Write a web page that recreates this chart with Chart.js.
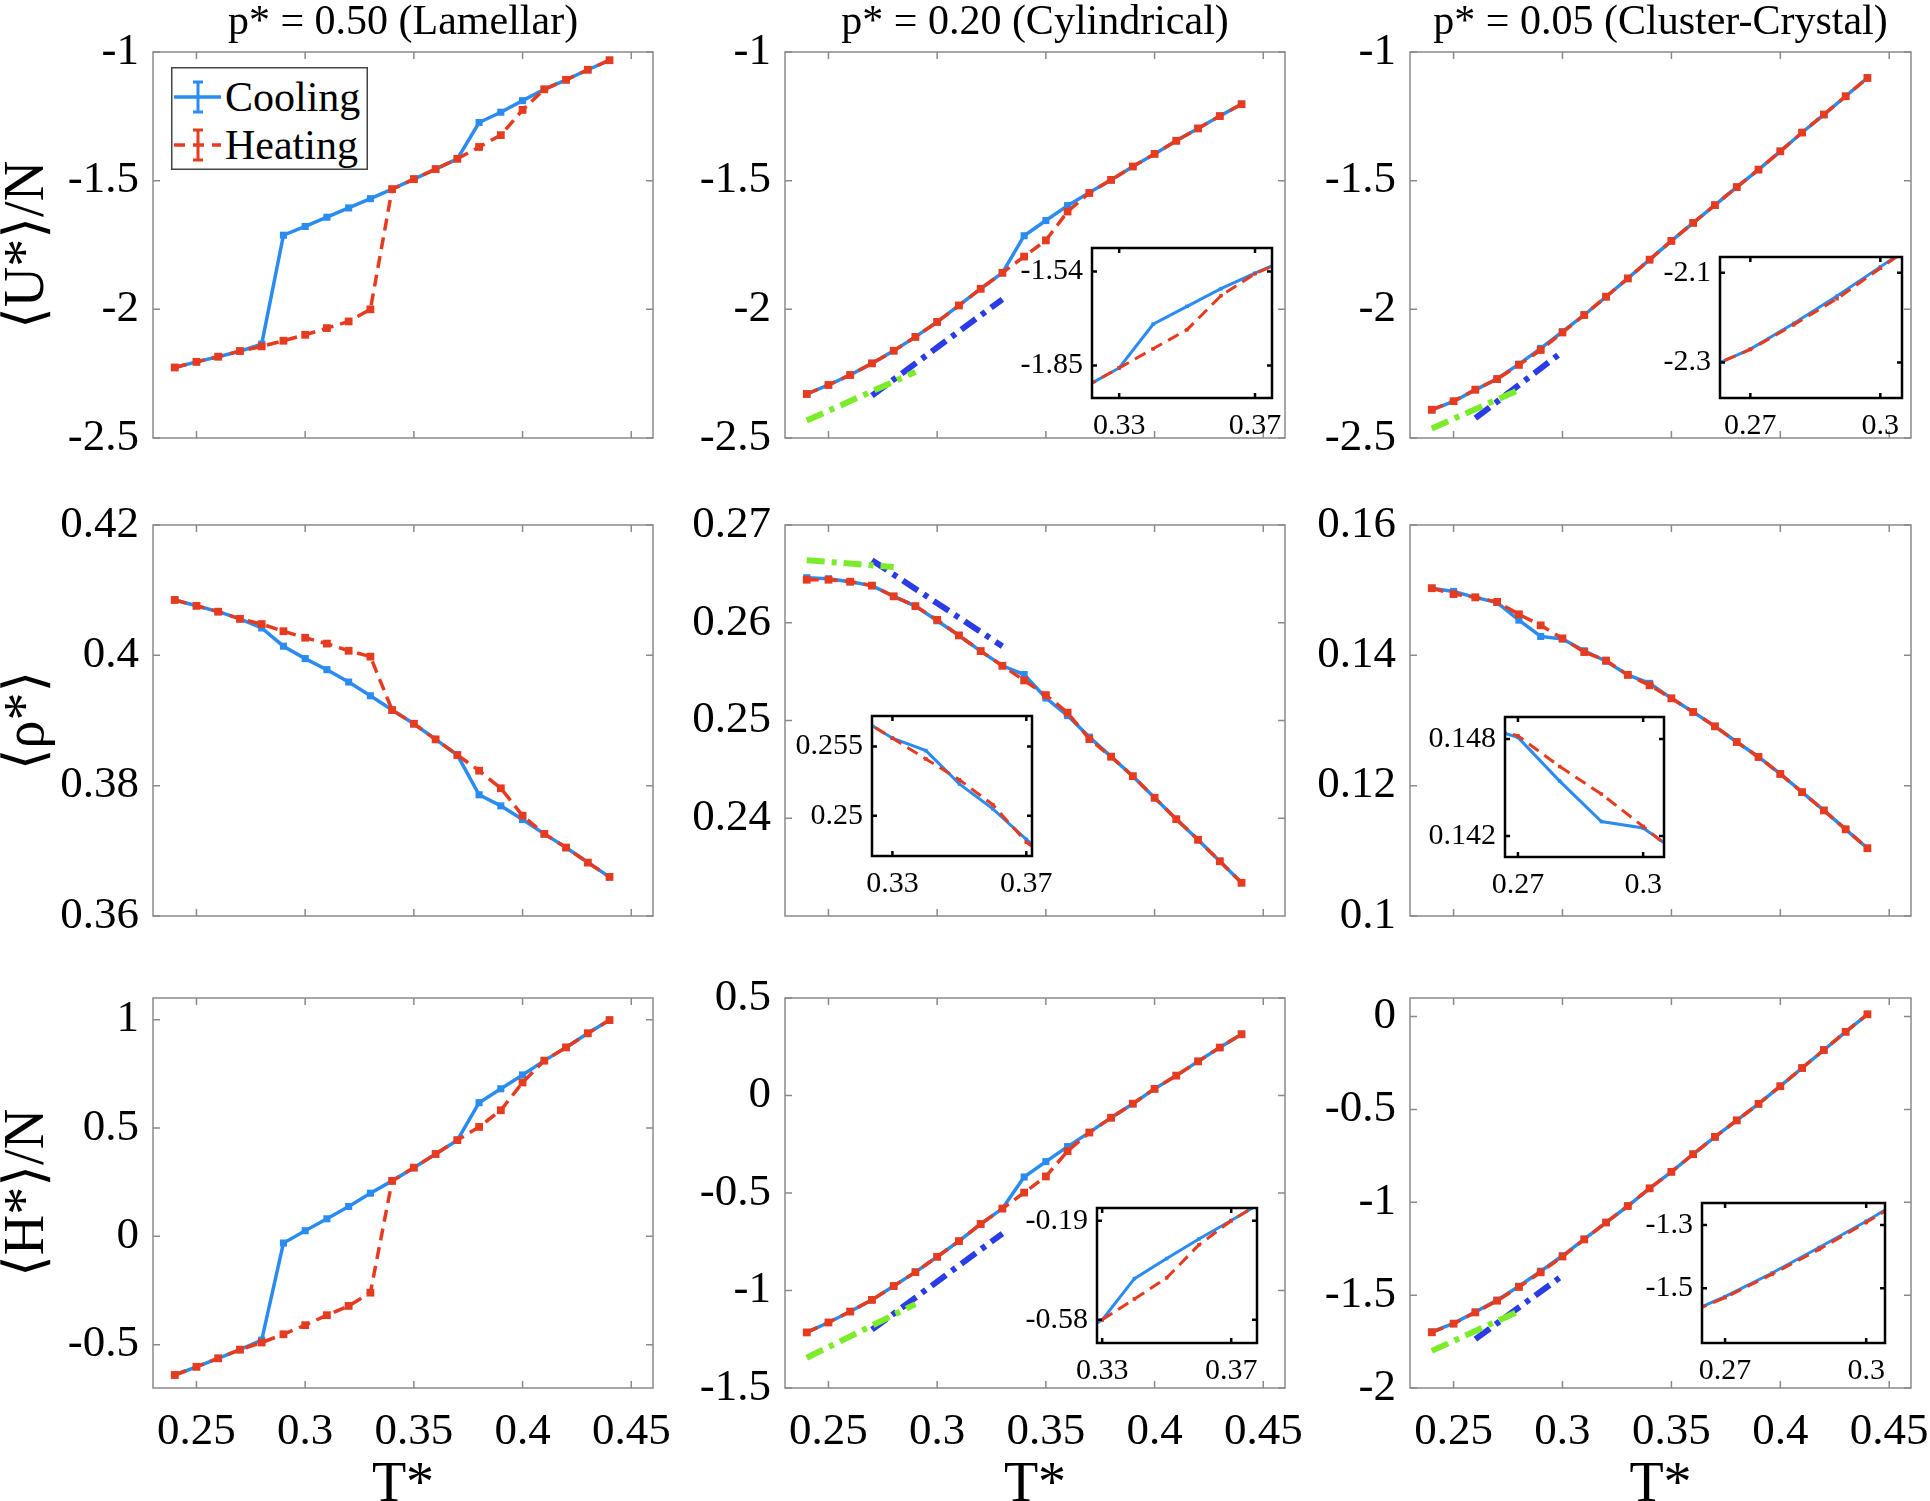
<!DOCTYPE html>
<html>
<head>
<meta charset="utf-8">
<title>Cooling / Heating</title>
<script src="https://cdn.jsdelivr.net/npm/chart.js@4.4.1/dist/chart.umd.min.js"></script>
<style>
  html, body { margin: 0; padding: 0; width: 1930px; height: 1501px; overflow: hidden; background: #fff; }
  canvas { position: absolute; }
  #legend { position: absolute; left: 171px; top: 67px; }
</style>
</head>
<body>
<svg id="legend" width="197" height="103" xmlns="http://www.w3.org/2000/svg">
  <rect x="0.75" y="0.75" width="195.5" height="101.5" fill="#fff" stroke="#444" stroke-width="1.5"/>
  <line x1="3" y1="30" x2="50" y2="30" stroke="#2A8BF2" stroke-width="3.5"/>
  <line x1="27" y1="15" x2="27" y2="45" stroke="#2A8BF2" stroke-width="3"/>
  <line x1="22" y1="15" x2="32" y2="15" stroke="#2A8BF2" stroke-width="3"/>
  <line x1="22" y1="45" x2="32" y2="45" stroke="#2A8BF2" stroke-width="3"/>
  <text x="54" y="44" font-family="'Liberation Serif', serif" font-size="42" fill="#000">Cooling</text>
  <line x1="3" y1="78" x2="50" y2="78" stroke="#E63B1F" stroke-width="3.5" stroke-dasharray="11 8"/>
  <line x1="27" y1="63" x2="27" y2="93" stroke="#E63B1F" stroke-width="3"/>
  <line x1="22" y1="63" x2="32" y2="63" stroke="#E63B1F" stroke-width="3"/>
  <line x1="22" y1="93" x2="32" y2="93" stroke="#E63B1F" stroke-width="3"/>
  <text x="54" y="92" font-family="'Liberation Serif', serif" font-size="42" fill="#000">Heating</text>
</svg>
<script>
// temperatures T*
var temps = [0.24, 0.25, 0.26, 0.27, 0.28, 0.29, 0.30, 0.31, 0.32, 0.33, 0.34,
             0.35, 0.36, 0.37, 0.38, 0.39, 0.40, 0.41, 0.42, 0.43, 0.44];

var colTitles = ['p* = 0.50 (Lamellar)', 'p* = 0.20 (Cylindrical)', 'p* = 0.05 (Cluster-Crystal)'];
var rowLabels = ['\u27E8U*\u27E9/N', '\u27E8\u03C1*\u27E9', '\u27E8H*\u27E9/N'];
var xTicks = [0.25, 0.3, 0.35, 0.4, 0.45];

// <U*>/N
var uLamCool = [-2.226, -2.204, -2.184, -2.163, -2.135, -1.712, -1.678, -1.642, -1.606, -1.570, -1.533,
                -1.494, -1.455, -1.415, -1.274, -1.234, -1.189, -1.145, -1.108, -1.069, -1.032];
var uLamHeat = [-2.226, -2.204, -2.184, -2.162, -2.144, -2.122, -2.099, -2.073, -2.047, -2.000, -1.533,
                -1.494, -1.455, -1.415, -1.369, -1.323, -1.225, -1.145, -1.108, -1.069, -1.032];
var uCylCool = [-2.329, -2.294, -2.255, -2.210, -2.161, -2.107, -2.049, -1.985, -1.920, -1.858, -1.714,
                -1.655, -1.597, -1.546, -1.497, -1.445, -1.396, -1.345, -1.297, -1.249, -1.203];
var uCylHeat = [-2.329, -2.294, -2.255, -2.210, -2.161, -2.107, -2.049, -1.985, -1.920, -1.858, -1.795,
                -1.732, -1.620, -1.548, -1.497, -1.445, -1.396, -1.345, -1.297, -1.249, -1.203];
var uCluCool = [-2.391, -2.358, -2.313, -2.270, -2.213, -2.152, -2.087, -2.022, -1.951, -1.880, -1.807,
                -1.734, -1.664, -1.595, -1.525, -1.457, -1.386, -1.313, -1.243, -1.172, -1.100];
var uCluHeat = [-2.390, -2.357, -2.312, -2.271, -2.216, -2.158, -2.090, -2.022, -1.951, -1.880, -1.807,
                -1.734, -1.664, -1.595, -1.525, -1.457, -1.386, -1.313, -1.243, -1.172, -1.101];

// <rho*>
var rhoLamCool = [0.4085, 0.4076, 0.4067, 0.4056, 0.4042, 0.4014, 0.3995, 0.3978, 0.3959, 0.3938, 0.3916,
                  0.3895, 0.3871, 0.3847, 0.3786, 0.3769, 0.3748, 0.3726, 0.3705, 0.3682, 0.3660];
var rhoLamHeat = [0.4085, 0.4076, 0.4067, 0.4056, 0.4048, 0.4037, 0.4027, 0.4018, 0.4007, 0.3998, 0.3916,
                  0.3895, 0.3871, 0.3847, 0.3823, 0.3796, 0.3754, 0.3726, 0.3705, 0.3682, 0.3660];
var rhoCylCool = [0.2646, 0.2645, 0.2642, 0.2638, 0.2627, 0.2617, 0.2602, 0.2587, 0.2571, 0.2556, 0.2547,
                  0.2523, 0.2505, 0.2483, 0.2463, 0.2443, 0.2421, 0.2399, 0.2378, 0.2356, 0.2334];
var rhoCylHeat = [0.2644, 0.2644, 0.2642, 0.2638, 0.2627, 0.2617, 0.2603, 0.2587, 0.2571, 0.2556, 0.2541,
                  0.2526, 0.2508, 0.2481, 0.2463, 0.2443, 0.2421, 0.2399, 0.2378, 0.2356, 0.2334];
var rhoCluCool = [0.1503, 0.1498, 0.1489, 0.1481, 0.1454, 0.1429, 0.1425, 0.1407, 0.1391, 0.1370, 0.1357,
                  0.1334, 0.1313, 0.1291, 0.1267, 0.1244, 0.1218, 0.1190, 0.1162, 0.1133, 0.1104];
var rhoCluHeat = [0.1503, 0.1494, 0.1489, 0.1482, 0.1463, 0.1446, 0.1426, 0.1405, 0.1392, 0.1370, 0.1354,
                  0.1334, 0.1313, 0.1291, 0.1267, 0.1244, 0.1218, 0.1190, 0.1162, 0.1133, 0.1104];

// <H*>/N
var hLamCool = [-0.640, -0.602, -0.563, -0.523, -0.479, -0.031, 0.026, 0.081, 0.138, 0.199, 0.256,
                0.317, 0.380, 0.444, 0.617, 0.681, 0.745, 0.811, 0.872, 0.937, 0.998];
var hLamHeat = [-0.640, -0.602, -0.563, -0.523, -0.490, -0.452, -0.410, -0.364, -0.321, -0.260, 0.256,
                0.317, 0.380, 0.444, 0.505, 0.582, 0.710, 0.811, 0.872, 0.937, 0.998];
var hCylCool = [-1.215, -1.164, -1.108, -1.048, -0.977, -0.906, -0.827, -0.747, -0.659, -0.580, -0.418,
                -0.339, -0.262, -0.189, -0.114, -0.042, 0.034, 0.102, 0.175, 0.246, 0.314];
var hCylHeat = [-1.215, -1.164, -1.108, -1.048, -0.977, -0.906, -0.827, -0.747, -0.659, -0.580, -0.498,
                -0.415, -0.285, -0.190, -0.114, -0.042, 0.034, 0.102, 0.175, 0.246, 0.314];
var hCluCool = [-1.698, -1.652, -1.591, -1.527, -1.452, -1.371, -1.288, -1.198, -1.109, -1.020, -0.925,
                -0.836, -0.741, -0.648, -0.559, -0.470, -0.375, -0.277, -0.180, -0.082, 0.012];
var hCluHeat = [-1.700, -1.654, -1.593, -1.530, -1.456, -1.377, -1.292, -1.200, -1.109, -1.020, -0.925,
                -0.836, -0.741, -0.648, -0.559, -0.470, -0.375, -0.277, -0.180, -0.082, 0.012];

// dash-dot guide lines (green / dark blue)
var uCylGreenT = [0.24, 0.29],  uCylGreen = [-2.432, -2.243];
var uCylBlueT  = [0.27, 0.33],  uCylBlue  = [-2.335, -1.961];
var uCluGreenT = [0.24, 0.28],  uCluGreen = [-2.463, -2.313];
var uCluBlueT  = [0.26, 0.30],  uCluBlue  = [-2.423, -2.165];
var rhoCylGreenT = [0.24, 0.28], rhoCylGreen = [0.2664, 0.2657];
var rhoCylBlueT  = [0.27, 0.33], rhoCylBlue  = [0.2664, 0.2576];
var hCylGreenT = [0.24, 0.29],  hCylGreen = [-1.345, -1.070];
var hCylBlueT  = [0.27, 0.33],  hCylBlue  = [-1.201, -0.708];
var hCluGreenT = [0.24, 0.28],  hCluGreen = [-1.800, -1.586];
var hCluBlueT  = [0.26, 0.30],  hCluBlue  = [-1.737, -1.395];

var SERIF = "'Liberation Serif', 'Times New Roman', 'DejaVu Serif', serif";
var BLUE = '#2A8BF2', RED = '#E63B1F', GREEN = '#7CEB2A', DARKBLUE = '#2A3CE6';

var COL = [{l: 153, r: 653}, {l: 785, r: 1285}, {l: 1410, r: 1911}];
var ROW = [{t: 52, b: 438}, {t: 525, b: 916}, {t: 998, b: 1388}];

function pairs(xs, ys) {
  return xs.map(function (x, i) { return {x: x, y: ys[i]}; });
}

function fmt(v) {
  return String(Math.round(v * 1e6) / 1e6);
}

// box + inward tick marks on all four sides (MATLAB look)
function framePlugin(color, width, tickLen, whiteBg) {
  return {
    id: 'frame',
    beforeDatasetsDraw: function (chart) {
      if (!whiteBg) return;
      var a = chart.chartArea, ctx = chart.ctx;
      ctx.save();
      ctx.fillStyle = '#fff';
      ctx.fillRect(a.left, a.top, a.right - a.left, a.bottom - a.top);
      ctx.restore();
    },
    afterDraw: function (chart) {
      var a = chart.chartArea, ctx = chart.ctx;
      var sx = chart.scales.x, sy = chart.scales.y;
      ctx.save();
      ctx.strokeStyle = color;
      ctx.lineWidth = width;
      ctx.beginPath();
      sx.ticks.forEach(function (t) {
        var px = sx.getPixelForValue(t.value);
        ctx.moveTo(px, a.bottom); ctx.lineTo(px, a.bottom - tickLen);
        ctx.moveTo(px, a.top); ctx.lineTo(px, a.top + tickLen);
      });
      sy.ticks.forEach(function (t) {
        var py = sy.getPixelForValue(t.value);
        ctx.moveTo(a.left, py); ctx.lineTo(a.left + tickLen, py);
        ctx.moveTo(a.right, py); ctx.lineTo(a.right - tickLen, py);
      });
      ctx.stroke();
      ctx.strokeRect(a.left, a.top, a.right - a.left, a.bottom - a.top);
      ctx.restore();
    }
  };
}

function buildDatasets(p, small) {
  var ds = [];
  ds.push({
    data: pairs(temps, p.heat), borderColor: RED, backgroundColor: RED,
    borderWidth: small ? 3 : 3.5, borderDash: [12, 7],
    pointStyle: 'rect', pointRadius: small ? 2.5 : 5.5, pointBorderWidth: 0, pointBackgroundColor: RED
  });
  ds.push({
    data: pairs(temps, p.cool), borderColor: BLUE, backgroundColor: BLUE,
    borderWidth: small ? 3 : 3.5,
    pointStyle: 'rect', pointRadius: small ? 2.5 : 5, pointBorderWidth: 0, pointBackgroundColor: BLUE
  });
  if (!small && p.green) {
    ds.push({
      data: pairs(p.green[0], p.green[1]), borderColor: GREEN, borderWidth: 6,
      borderDash: [18, 7, 5, 7], pointRadius: 0
    });
    ds.push({
      data: pairs(p.blue[0], p.blue[1]), borderColor: DARKBLUE, borderWidth: 6,
      borderDash: [18, 7, 5, 7], pointRadius: 0
    });
  }
  return ds;
}

function makeChart(box, g, p, small) {
  var canvas = document.createElement('canvas');
  var w = (box.r - box.l) + g.padL + g.padR;
  var h = (box.b - box.t) + g.padT + g.padB;
  canvas.width = w;
  canvas.height = h;
  canvas.style.left = (box.l - g.padL) + 'px';
  canvas.style.top = (box.t - g.padT) + 'px';
  canvas.style.width = w + 'px';
  canvas.style.height = h + 'px';
  document.body.appendChild(canvas);

  var tickFont = {family: SERIF, size: small ? 30 : 45, lineHeight: 1};

  new Chart(canvas, {
    type: 'line',
    data: {datasets: buildDatasets(p, small)},
    options: {
      responsive: false,
      devicePixelRatio: 1,
      animation: false,
      events: [],
      layout: {autoPadding: false, padding: {top: g.title ? 0 : g.padT, right: g.padR, left: 0, bottom: 0}},
      elements: {line: {tension: 0}},
      datasets: {line: {clip: small ? 0 : 3}},
      plugins: {
        legend: {display: false},
        tooltip: {enabled: false},
        title: g.title ? {
          display: true, text: g.title, fullSize: false, color: '#000',
          font: {family: SERIF, size: 42, weight: 'normal', lineHeight: 1},
          padding: {top: 2, bottom: g.padT - 44}
        } : {display: false}
      },
      scales: {
        x: {
          type: 'linear', min: g.x[0], max: g.x[1],
          afterBuildTicks: function (s) { s.ticks = g.xt.map(function (v) { return {value: v}; }); },
          afterFit: function (s) { s.height = g.padB; s.paddingLeft = 0; s.paddingRight = 0; },
          grid: {display: false, drawTicks: false},
          border: {display: false},
          ticks: {display: g.xLabels, font: tickFont, color: '#000', padding: small ? 13 : 22,
                  maxRotation: 0, autoSkip: false, callback: fmt},
          title: g.xTitle ? {display: true, text: g.xTitle, color: '#000',
                             font: {family: SERIF, size: 56, lineHeight: 1},
                             padding: {top: 0, bottom: 7}} : {display: false}
        },
        y: {
          type: 'linear', min: g.y[0], max: g.y[1],
          afterBuildTicks: function (s) { s.ticks = g.yt.map(function (v) { return {value: v}; }); },
          afterFit: function (s) { s.width = g.padL; s.paddingTop = 0; s.paddingBottom = 0; },
          grid: {display: false, drawTicks: false},
          border: {display: false},
          ticks: {font: tickFont, color: '#000', padding: small ? 9 : 14, autoSkip: false, callback: fmt},
          title: g.yTitle ? {display: true, text: g.yTitle, color: '#000',
                             font: {family: SERIF, size: 56, lineHeight: 1},
                             padding: {top: 0, bottom: 0}} : {display: false}
        }
      }
    },
    plugins: [small ? framePlugin('#000', 2.5, 5, true) : framePlugin('#8a8a8a', 1.5, 7, false)]
  });
}

var panels = [
  {row: 0, col: 0, y: [-2.5, -1], yt: [-2.5, -2, -1.5, -1], cool: uLamCool, heat: uLamHeat},
  {row: 0, col: 1, y: [-2.5, -1], yt: [-2.5, -2, -1.5, -1], cool: uCylCool, heat: uCylHeat,
   green: [uCylGreenT, uCylGreen], blue: [uCylBlueT, uCylBlue],
   inset: {l: 1092, r: 1272, t: 248, b: 398, x: [0.322, 0.375], xt: [0.33, 0.37], y: [-1.957, -1.463], yt: [-1.85, -1.54]}},
  {row: 0, col: 2, y: [-2.5, -1], yt: [-2.5, -2, -1.5, -1], cool: uCluCool, heat: uCluHeat,
   green: [uCluGreenT, uCluGreen], blue: [uCluBlueT, uCluBlue],
   inset: {l: 1720, r: 1902, t: 257, b: 398, x: [0.263, 0.305], xt: [0.27, 0.3], y: [-2.379, -2.065], yt: [-2.3, -2.1]}},
  {row: 1, col: 0, y: [0.36, 0.42], yt: [0.36, 0.38, 0.4, 0.42], cool: rhoLamCool, heat: rhoLamHeat},
  {row: 1, col: 1, y: [0.23, 0.27], yt: [0.24, 0.25, 0.26, 0.27], cool: rhoCylCool, heat: rhoCylHeat,
   green: [rhoCylGreenT, rhoCylGreen], blue: [rhoCylBlueT, rhoCylBlue],
   inset: {l: 872, r: 1032, t: 716, b: 856, x: [0.3239, 0.3717], xt: [0.33, 0.37], y: [0.2471, 0.2572], yt: [0.25, 0.255]}},
  {row: 1, col: 2, y: [0.1, 0.16], yt: [0.1, 0.12, 0.14, 0.16], cool: rhoCluCool, heat: rhoCluHeat,
   inset: {l: 1505, r: 1664, t: 717, b: 857, x: [0.2669, 0.305], xt: [0.27, 0.3], y: [0.14071, 0.14936], yt: [0.142, 0.148]}},
  {row: 2, col: 0, y: [-0.7, 1.1], yt: [-0.5, 0, 0.5, 1], cool: hLamCool, heat: hLamHeat},
  {row: 2, col: 1, y: [-1.5, 0.5], yt: [-1.5, -1, -0.5, 0, 0.5], cool: hCylCool, heat: hCylHeat,
   green: [hCylGreenT, hCylGreen], blue: [hCylBlueT, hCylBlue],
   inset: {l: 1097, r: 1257, t: 1208, b: 1343, x: [0.3284, 0.378], xt: [0.33, 0.37], y: [-0.671, -0.140], yt: [-0.58, -0.19]}},
  {row: 2, col: 2, y: [-2, 0.1], yt: [-2, -1.5, -1, -0.5, 0], cool: hCluCool, heat: hCluHeat,
   green: [hCluGreenT, hCluGreen], blue: [hCluBlueT, hCluBlue],
   inset: {l: 1702, r: 1885, t: 1203, b: 1343, x: [0.2651, 0.304], xt: [0.27, 0.3], y: [-1.674, -1.23], yt: [-1.5, -1.3]}}
];

panels.forEach(function (p) {
  var c = COL[p.col], r = ROW[p.row];
  makeChart({l: c.l, r: c.r, t: r.t, b: r.b}, {
    padL: p.col === 0 ? c.l : 150,
    padR: p.col === 2 ? 1930 - c.r : 40,
    padT: p.row === 0 ? r.t : 40,
    padB: p.row === 2 ? 1521 - r.b : 35,
    x: [0.23, 0.46], xt: xTicks, y: p.y, yt: p.yt,
    xLabels: p.row === 2,
    xTitle: p.row === 2 ? 'T*' : null,
    yTitle: p.col === 0 ? rowLabels[p.row] : null,
    title: p.row === 0 ? colTitles[p.col] : null
  }, p, false);
});

// insets drawn on top of the main plots
panels.forEach(function (p) {
  if (!p.inset) return;
  var s = p.inset;
  makeChart({l: s.l, r: s.r, t: s.t, b: s.b}, {
    padL: 85, padR: p.col === 2 ? 1930 - s.r : 40, padT: 14, padB: 55,
    x: s.x, xt: s.xt, y: s.y, yt: s.yt,
    xLabels: true, xTitle: null, yTitle: null, title: null
  }, p, true);
});
</script>
</body>
</html>
